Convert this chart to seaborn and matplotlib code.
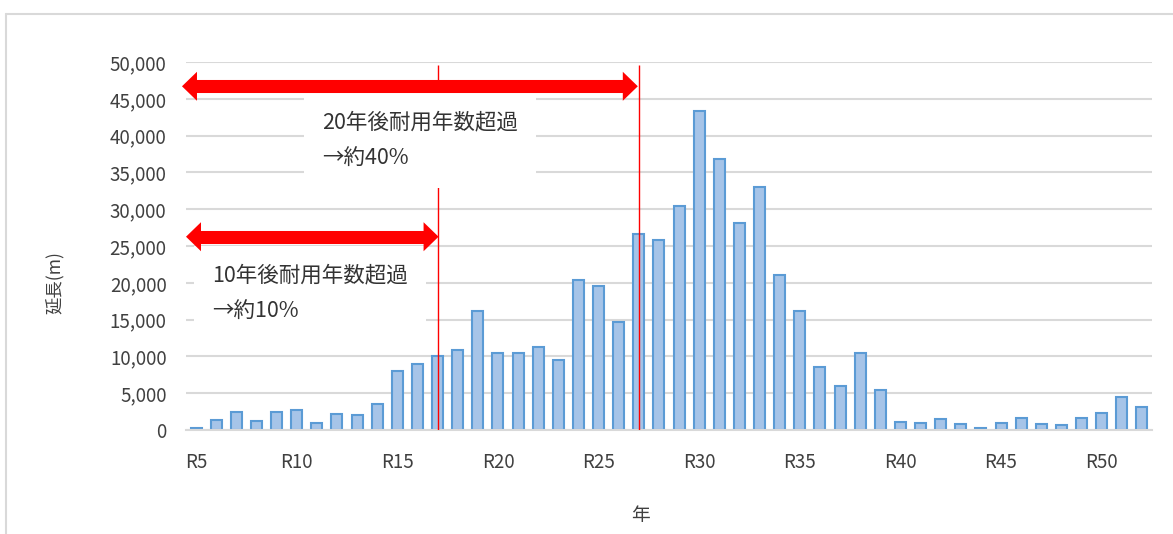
import matplotlib
matplotlib.use('Agg')
import matplotlib.pyplot as plt
import seaborn as sns
from matplotlib.lines import Line2D

# 年度ごとの延長(m)
years = ['R5', 'R6', 'R7', 'R8', 'R9', 'R10', 'R11', 'R12', 'R13', 'R14',
         'R15', 'R16', 'R17', 'R18', 'R19', 'R20', 'R21', 'R22', 'R23', 'R24',
         'R25', 'R26', 'R27', 'R28', 'R29', 'R30', 'R31', 'R32', 'R33', 'R34',
         'R35', 'R36', 'R37', 'R38', 'R39', 'R40', 'R41', 'R42', 'R43', 'R44',
         'R45', 'R46', 'R47', 'R48', 'R49', 'R50', 'R51', 'R52']
length_m = [300, 1300, 2500, 1200, 2500, 2700, 1000, 2200, 2000, 3500,
            8000, 9000, 10100, 10900, 16200, 10500, 10500, 11300, 9500, 20400,
            19600, 14700, 26600, 25800, 30400, 43300, 36800, 28100, 33000, 21000,
            16200, 8500, 6000, 10500, 5500, 1100, 1000, 1500, 800, 300,
            1000, 1600, 800, 700, 1600, 2300, 4500, 3100]
shown_ticks = ['R5', 'R10', 'R15', 'R20', 'R25', 'R30', 'R35', 'R40', 'R45', 'R50']

sns.set_theme(style='white')
plt.rcParams['font.family'] = ['Noto Sans CJK JP', 'DejaVu Sans']

fig = plt.figure(figsize=(11.73, 5.34), dpi=100)
ax = fig.add_axes([186 / 1173, 1 - 430 / 534, 966 / 1173, 368 / 534])

sns.barplot(x=years, y=length_m, ax=ax, color='#a6c4e8', saturation=1,
            edgecolor='#5b9bd5', linewidth=1.5, width=0.55)

ax.set_xlim(-0.5, len(years) - 0.5)
ax.set_ylim(0, 50000)
ax.set_yticks(range(0, 50001, 5000))
ax.set_yticklabels([f'{v:,}' for v in range(0, 50001, 5000)])
ax.set_xticks([years.index(t) for t in shown_ticks])
ax.set_xticklabels(shown_ticks)
ax.tick_params(axis='x', length=0, pad=16, labelsize=13.5, labelcolor='#404040')
ax.tick_params(axis='y', length=0, pad=14, labelsize=13.5, labelcolor='#404040')

ax.set_axisbelow(True)
ax.yaxis.grid(True, color='#d9d9d9', linewidth=1.5)
for side in ['top', 'right', 'left']:
    ax.spines[side].set_visible(False)
ax.spines['bottom'].set_color('#d9d9d9')
ax.spines['bottom'].set_linewidth(1.5)

ax.set_ylabel('延長(m)', fontsize=12.5, color='#404040')
ax.yaxis.set_label_coords(-0.126, 0.40)
ax.set_xlabel('年', fontsize=13.5, color='#404040')
ax.xaxis.set_label_coords(0.47, -0.205)

# 耐用年数の区切り線
ax.vlines([years.index('R17'), years.index('R27')], 0, 49600, color='red', lw=1, zorder=3)


def double_arrow(x0, x1, y):
    # 太い線 + 両端の三角の矢じり
    ax.hlines(y, x0 + 0.5, x1 - 0.5, color='red', lw=9.4, capstyle='butt',
              zorder=6, clip_on=False)
    for start, end in ((x0 + 1.5, x0), (x1 - 1.5, x1)):
        ax.annotate('', xy=(end, y), xytext=(start, y), annotation_clip=False, zorder=6,
                    arrowprops=dict(arrowstyle='-|>,head_length=1.08,head_width=1.045',
                                    mutation_scale=10, color='red', lw=0,
                                    shrinkA=0, shrinkB=0))


double_arrow(-0.7, 21.95, 46700)
double_arrow(-0.5, 12.05, 26260)

box = dict(boxstyle='square,pad=0.85', fc='white', ec='none')
ax.text(6.26, 43300, '20年後耐用年数超過\n→約40%', ha='left', va='top', fontsize=15.5,
        color='#333333', linespacing=1.85, bbox=box, zorder=4)
ax.text(0.8, 22500, '10年後耐用年数超過\n→約10%', ha='left', va='top', fontsize=15.5,
        color='#333333', linespacing=1.85, bbox=box, zorder=4)

# 外枠
fig.add_artist(Line2D([6 / 1173, 6 / 1173], [0, 1 - 14 / 534], color='#d9d9d9', lw=1.5))
fig.add_artist(Line2D([6 / 1173, 1], [1 - 14 / 534, 1 - 14 / 534], color='#d9d9d9', lw=1.5))

fig.savefig('out.png', dpi=100)
